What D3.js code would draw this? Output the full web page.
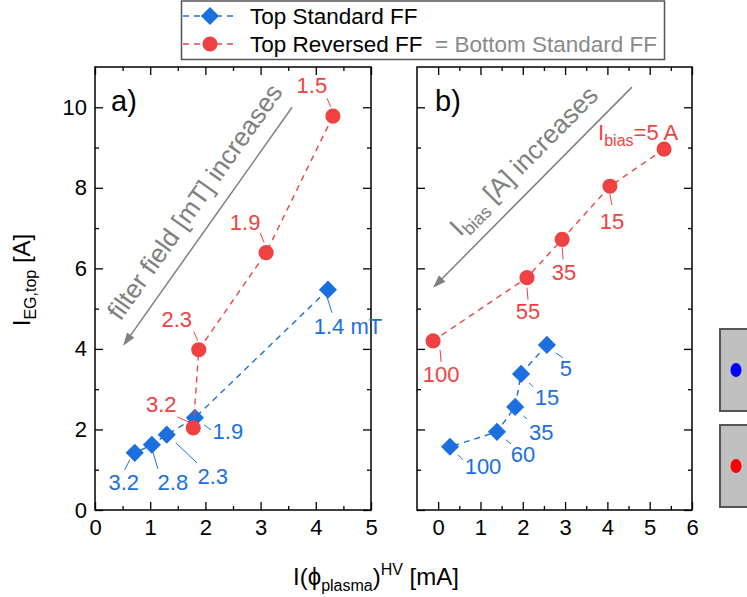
<!DOCTYPE html>
<html><head><meta charset="utf-8">
<script src="https://cdn.jsdelivr.net/npm/d3@7"></script>
<style>
body{margin:0;background:#fff}
text{font-family:"Liberation Sans",Arial,Helvetica,sans-serif}
</style>
</head><body>
<svg id="chart" width="747" height="597"></svg>
<script>
// a) electron-gun current vs. plasma current while the filter field [mT] is varied
const fieldLabelsStd = ["1.4 mT", "1.9", "2.3", "2.8", "3.2"];
const fieldStdX = [4.22, 1.81, 1.30, 1.03, 0.72];
const fieldStdY = [5.47, 2.29, 1.87, 1.62, 1.42];
const fieldLabelsRev = ["1.5", "1.9", "2.3", "3.2"];
const fieldRevX = [4.31, 3.10, 1.88, 1.78];
const fieldRevY = [9.78, 6.39, 3.98, 2.04];

// b) same quantities while the bias current [A] is varied
const biasLabelsStd = ["5", "15", "35", "60", "100"];
const biasStdX = [2.57, 1.96, 1.82, 1.39, 0.28];
const biasStdY = [4.10, 3.38, 2.56, 1.94, 1.57];
const biasLabelsRev = ["5", "15", "35", "55", "100"];
const biasRevX = [5.34, 4.06, 2.93, 2.10, -0.12];
const biasRevY = [8.96, 8.04, 6.72, 5.77, 4.20];

const xTicksA = [0, 1, 2, 3, 4, 5];
const xMinorA = [0.5, 1.5, 2.5, 3.5, 4.5];
const xTicksB = [0, 1, 2, 3, 4, 5, 6];
const xMinorB = [0.5, 1.5, 2.5, 3.5, 4.5, 5.5];
const yTicks = [0, 2, 4, 6, 8, 10];
const yMinor = [1, 3, 5, 7, 9];

// label placement in px relative to each marker: [labelDx, labelDy, leaderX1, leaderY1, leaderX2, leaderY2]
const fieldStdLayout = [[20,37,-1,7,4,23],[33,14,9,7,16,12],[46,42,9,8,30,28],[21,38,1,7,6,24],[-11,30,-5,7,-10,17]];
const fieldRevLayout = [[-21,-31,-6,-18,-2,-9],[-21,-30,-6,-20,-2,-10],[-22,-30,-5,-18,-1,-9],[-32,-23,-16,-11,-5,-6]];
const biasStdLayout = [[19,24,9,8,16,13],[26,24,8,9,12,13],[26,26,8,9,12,12],[26,23,9,8,14,12],[33,20,8,8,13,13]];
const biasRevLayout = [[-66,-9,null,null,null,null],[2,35,0,8,2,19],[2,33,0,8,1,20],[1,34,0,10,1,22],[8,34,7,9,8,21]];

const BLUE = "#1b6fdf", RED = "#f04242", GREY = "#808080";
const FONT = 22;

const svg = d3.select("#chart");
const yTop = 67, yBot = 510;
const y = d3.scaleLinear().domain([0, 11]).range([yBot, yTop]);
const xa = d3.scaleLinear().domain([0, 5]).range([95, 371]);
const xb = d3.scaleLinear().domain([-0.5, 6]).range([417, 692]);

function styleAxis(g) {
  g.select(".domain").remove();
  g.selectAll("line").attr("stroke", "#000").attr("stroke-width", 1.3);
  g.selectAll("text").attr("font-size", FONT).attr("fill", "#000")
    .attr("font-family", "Liberation Sans, Arial, sans-serif");
}

function frame(x, majors, minors, yLabels) {
  const g = svg.append("g");
  const [x0, x1] = x.range();
  const fmt = d3.format("d");
  // bottom
  g.append("g").attr("transform", `translate(0,${yBot})`)
    .call(d3.axisBottom(x).tickValues(majors).tickSize(-8).tickPadding(9).tickFormat(fmt)).call(styleAxis);
  g.append("g").attr("transform", `translate(0,${yBot})`)
    .call(d3.axisBottom(x).tickValues(minors).tickSize(-4).tickFormat("")).call(styleAxis);
  // top
  g.append("g").attr("transform", `translate(0,${yTop})`)
    .call(d3.axisTop(x).tickValues(majors).tickSize(-8).tickFormat("")).call(styleAxis);
  g.append("g").attr("transform", `translate(0,${yTop})`)
    .call(d3.axisTop(x).tickValues(minors).tickSize(-4).tickFormat("")).call(styleAxis);
  // left
  g.append("g").attr("transform", `translate(${x0},0)`)
    .call(d3.axisLeft(y).tickValues(yTicks).tickSize(-8).tickPadding(8).tickFormat(yLabels ? fmt : "")).call(styleAxis);
  g.append("g").attr("transform", `translate(${x0},0)`)
    .call(d3.axisLeft(y).tickValues(yMinor).tickSize(-4).tickFormat("")).call(styleAxis);
  // right
  g.append("g").attr("transform", `translate(${x1},0)`)
    .call(d3.axisRight(y).tickValues(yTicks).tickSize(-8).tickFormat("")).call(styleAxis);
  g.append("g").attr("transform", `translate(${x1},0)`)
    .call(d3.axisRight(y).tickValues(yMinor).tickSize(-4).tickFormat("")).call(styleAxis);
  g.append("rect").attr("x", x0).attr("y", yTop).attr("width", x1 - x0).attr("height", yBot - yTop)
    .attr("fill", "none").attr("stroke", "#000").attr("stroke-width", 1.5);
}

const diamond = d3.symbol().type(d3.symbolSquare).size(165)();
const circle = d3.symbol().type(d3.symbolCircle).size(180)();

function series(x, xs, ys, labels, layout, colour, shape, rotate) {
  const pts = xs.map((v, i) => [x(v), y(ys[i])]);
  const g = svg.append("g");
  g.append("path").attr("d", d3.line()(pts)).attr("fill", "none")
    .attr("stroke", colour).attr("stroke-width", 1.4).attr("stroke-dasharray", "6,5");
  pts.forEach((p, i) => {
    const L = layout[i];
    if (L[2] !== null) {
      g.append("line").attr("x1", p[0] + L[2]).attr("y1", p[1] + L[3])
        .attr("x2", p[0] + L[4]).attr("y2", p[1] + L[5])
        .attr("stroke", colour).attr("stroke-width", 1);
    }
  });
  pts.forEach(p => {
    g.append("path").attr("d", shape)
      .attr("transform", `translate(${p[0]},${p[1]})` + (rotate ? " rotate(45)" : ""))
      .attr("fill", colour);
  });
  pts.forEach((p, i) => {
    const L = layout[i];
    g.append("text").attr("x", p[0] + L[0]).attr("y", p[1] + L[1])
      .attr("text-anchor", "middle").attr("dominant-baseline", "central")
      .attr("font-size", FONT).attr("fill", colour).text(labels[i]);
  });
  return pts;
}

frame(xa, xTicksA, xMinorA, true);
frame(xb, xTicksB, xMinorB, false);

// trend arrows with captions
function arrow(x, from, to, colour) {
  const p0 = [x(from[0]), y(from[1])], p1 = [x(to[0]), y(to[1])];
  const ang = Math.atan2(p1[1] - p0[1], p1[0] - p0[0]);
  const len = 13, hw = 4.5;
  const base = [p1[0] - len * Math.cos(ang), p1[1] - len * Math.sin(ang)];
  svg.append("line").attr("x1", p0[0]).attr("y1", p0[1]).attr("x2", base[0]).attr("y2", base[1])
    .attr("stroke", colour).attr("stroke-width", 1.5);
  const n = [-Math.sin(ang), Math.cos(ang)];
  svg.append("path").attr("d", `M${p1[0]},${p1[1]}L${base[0] + hw * n[0]},${base[1] + hw * n[1]}L${base[0] - hw * n[0]},${base[1] - hw * n[1]}Z`)
    .attr("fill", colour);
}
arrow(xa, [3.57, 10.0], [0.51, 4.08], GREY);
arrow(xb, [4.58, 10.5], [-0.12, 5.52], GREY);

svg.append("text").attr("transform", "translate(202,207) rotate(-54.6)")
  .attr("text-anchor", "middle").attr("font-size", 26).attr("fill", GREY)
  .text("filter field [mT] increases");

const capB = svg.append("text").attr("transform", "translate(530,167) rotate(-45.2)")
  .attr("text-anchor", "middle").attr("font-size", 26).attr("fill", GREY);
capB.append("tspan").text("I");
capB.append("tspan").attr("font-size", 18).attr("dy", 6).text("bias");
capB.append("tspan").attr("dy", -6).text(" [A] increases");

// data series: standard filter field first, reversed on top
series(xa, fieldStdX, fieldStdY, fieldLabelsStd, fieldStdLayout, BLUE, diamond, true);
series(xa, fieldRevX, fieldRevY, fieldLabelsRev, fieldRevLayout, RED, circle, false);
series(xb, biasStdX, biasStdY, biasLabelsStd, biasStdLayout, BLUE, diamond, true);
const revB = series(xb, biasRevX, biasRevY, biasLabelsRev.map((d, i) => i === 0 ? "" : d), biasRevLayout, RED, circle, false);

// first bias label written out in full
const ib = svg.append("text").attr("x", revB[0][0] + biasRevLayout[0][0]).attr("y", revB[0][1] + biasRevLayout[0][1])
  .attr("font-size", FONT).attr("fill", RED);
ib.append("tspan").text("I");
ib.append("tspan").attr("font-size", 16).attr("dy", 6).text("bias");
ib.append("tspan").attr("dy", -6).text("=" + biasLabelsRev[0] + " A");

// panel tags
svg.append("text").attr("x", 111).attr("y", 111).attr("font-size", 29).text("a)");
svg.append("text").attr("x", 435).attr("y", 111).attr("font-size", 29).text("b)");

// axis titles
const yt = svg.append("text").attr("transform", "translate(30,280) rotate(-90)")
  .attr("text-anchor", "middle").attr("font-size", 24);
yt.append("tspan").text("I");
yt.append("tspan").attr("font-size", 16).attr("dy", 6).text("EG,top");
yt.append("tspan").attr("dy", -6).text(" [A]");

const xt = svg.append("text").attr("x", 376).attr("y", 585)
  .attr("text-anchor", "middle").attr("font-size", 24);
xt.append("tspan").text("I(\u03d5");
xt.append("tspan").attr("font-size", 16).attr("dy", 6).text("plasma");
xt.append("tspan").attr("dy", -6).text(")");
xt.append("tspan").attr("font-size", 16).attr("dy", -10).text("HV");
xt.append("tspan").attr("dy", 10).text(" [mA]");

// legend
const lg = svg.append("g");
lg.append("rect").attr("x", 181.5).attr("y", 1).attr("width", 483).attr("height", 58.5)
  .attr("fill", "#fff").attr("stroke", "#555").attr("stroke-width", 1.5);
[[16, BLUE, diamond, true, "Top Standard FF"], [44, RED, circle, false, "Top Reversed FF"]].forEach(r => {
  lg.append("line").attr("x1", 183).attr("x2", 237).attr("y1", r[0]).attr("y2", r[0])
    .attr("stroke", r[1]).attr("stroke-width", 1.4).attr("stroke-dasharray", "6,5");
  lg.append("path").attr("d", r[2]).attr("fill", r[1])
    .attr("transform", `translate(210,${r[0]})` + (r[3] ? " rotate(45)" : ""));
  lg.append("text").attr("x", 250).attr("y", r[0]).attr("dominant-baseline", "central")
    .attr("font-size", 22.5).text(r[4]);
});
lg.append("text").attr("x", 435).attr("y", 44).attr("dominant-baseline", "central")
  .attr("font-size", 22.5).attr("fill", "#8a8a8a").text("= Bottom Standard FF");

// side inset swatches
[[329, "#0000ff"], [425, "#ff0000"]].forEach(s => {
  svg.append("rect").attr("x", 720).attr("y", s[0]).attr("width", 40).attr("height", 82)
    .attr("fill", "#c0c0c0").attr("stroke", "#555").attr("stroke-width", 2);
  svg.append("ellipse").attr("cx", 736).attr("cy", s[0] + 41).attr("rx", 5.5).attr("ry", 7).attr("fill", s[1]);
});
</script>
</body></html>
